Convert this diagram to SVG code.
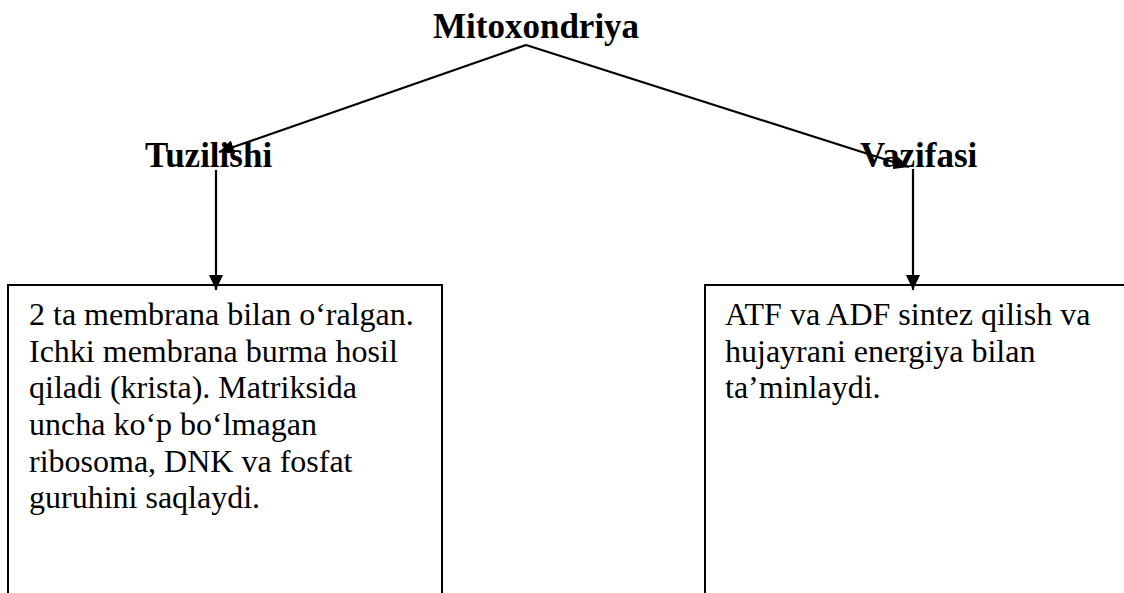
<svg xmlns="http://www.w3.org/2000/svg" width="1124" height="593" viewBox="0 0 1124 593">
<style>
.title{font-family:"Liberation Serif","Times New Roman",serif;font-weight:bold;font-size:35px;fill:#000}
.body{font-family:"Liberation Serif","Times New Roman",serif;font-size:32px;fill:#000}
.box{fill:#fff;stroke:#000;stroke-width:2}
.conn{stroke:#000;stroke-width:2.2;fill:none;marker-end:url(#ah)}
</style>
<defs>
<marker id="ah" viewBox="0 0 15 14" refX="15" refY="7" markerWidth="15" markerHeight="14" markerUnits="userSpaceOnUse" orient="auto">
<path d="M0,0 L15,7 L0,14 Z" fill="#000"/>
</marker>
</defs>
<rect width="1124" height="593" fill="#fff"/>
<g id="node-mitoxondriya"><text class="title" x="433" y="38">Mitoxondriya</text></g>
<g id="node-tuzilishi"><text class="title" x="145" y="167">Tuzilishi</text></g>
<g id="node-vazifasi"><text class="title" x="860" y="167">Vazifasi</text></g>
<g id="node-box-left">
<rect class="box" x="8" y="285" width="434" height="330"/>
<text class="body" x="29" y="325">2 ta membrana bilan o‘ralgan.</text>
<text class="body" x="29" y="362">Ichki membrana burma hosil</text>
<text class="body" x="29" y="398">qiladi (krista). Matriksida</text>
<text class="body" x="29" y="435">uncha ko‘p bo‘lmagan</text>
<text class="body" x="29" y="472">ribosoma, DNK va fosfat</text>
<text class="body" x="29" y="508">guruhini saqlaydi.</text>
</g>
<g id="node-box-right">
<rect class="box" x="705" y="285" width="440" height="330"/>
<text class="body" x="725" y="325">ATF va ADF sintez qilish va</text>
<text class="body" x="725" y="362">hujayrani energiya bilan</text>
<text class="body" x="725" y="398">ta’minlaydi.</text>
</g>
<g id="connectors">
<polyline class="conn" points="526,45 219,152"/>
<polyline class="conn" points="526,45 909,167"/>
<line class="conn" x1="216" y1="170" x2="216" y2="290"/>
<line class="conn" x1="913" y1="169" x2="913" y2="290"/>
</g>
</svg>
